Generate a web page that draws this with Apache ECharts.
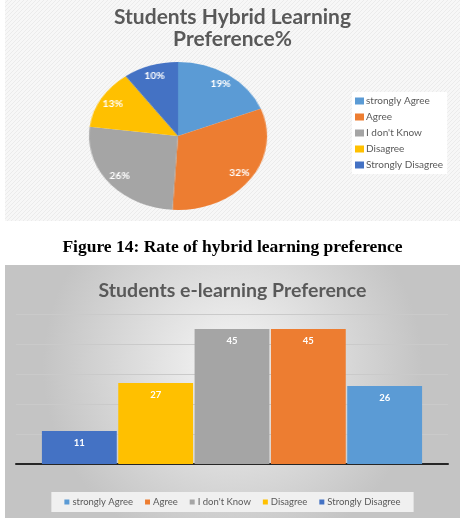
<!DOCTYPE html>
<html>
<head>
<meta charset="utf-8">
<script src="https://cdn.jsdelivr.net/npm/echarts@6/dist/echarts.min.js"></script>
<style>
  html, body { margin: 0; padding: 0; background: #fff; }
  #main { position: absolute; left: 0; top: 0; width: 465px; height: 523px; }
  /* the pie is drawn round and stretched sideways to get the oval look */
  #pie { position: absolute; left: 98px; top: 56px; width: 160px; height: 160px;
         transform: scaleX(1.203); transform-origin: 50% 50%; }
</style>
</head>
<body>
<div id="main"></div>
<div id="pie"></div>
<script>
// data
var pieNames = ['strongly Agree', 'Agree', "I don't Know", 'Disagree', 'Strongly Disagree'];
var pieValues = [19, 32, 26, 13, 10];
var barNames = ['Strongly Disagree', 'Disagree', "I don't Know", 'Agree', 'strongly Agree'];
var barValues = [11, 27, 45, 45, 26];
var yTicks = [0, 10, 20, 30, 40, 50];

var colorOf = {
    'strongly Agree': '#5b9bd5',
    'Agree': '#ed7d31',
    "I don't Know": '#a5a5a5',
    'Disagree': '#ffc000',
    'Strongly Disagree': '#4472c4'
};
var font = 'Lato, "Open Sans", sans-serif';

// light diagonal hatch for the top panel
var hatch = document.createElement('canvas');
hatch.width = 4; hatch.height = 4;
var hc = hatch.getContext('2d');
hc.fillStyle = '#f7f7f7';
hc.fillRect(0, 0, 4, 4);
hc.strokeStyle = '#ebebeb';
hc.lineWidth = 1;
hc.beginPath(); hc.moveTo(0, 4); hc.lineTo(4, 0); hc.stroke();

var myChart = echarts.init(document.getElementById('main'));

var barSeries = [];
for (var i = 0; i < barNames.length; i++) {
    barSeries.push({
        name: barNames[i],
        type: 'bar',
        barCategoryGap: '12%',
        barGap: '2%',
        itemStyle: { color: colorOf[barNames[i]] },
        label: {
            show: true,
            position: 'insideTop',
            distance: 7,
            color: '#fff',
            fontWeight: 'bold',
            fontSize: 9.5,
            fontFamily: font
        },
        data: [barValues[i]]
    });
}

option = {
    animation: false,
    graphic: [
        {
            type: 'rect', z: -10,
            shape: { x: 5, y: 0, width: 455, height: 221 },
            style: { fill: { image: hatch, repeat: 'repeat' } }
        },
        {
            type: 'rect', z: -10,
            shape: { x: 5, y: 265, width: 455, height: 253 },
            style: {
                fill: new echarts.graphic.RadialGradient(0.5, 0.4, 0.75, [
                    { offset: 0, color: '#f6f6f6' },
                    { offset: 1, color: '#c4c4c4' }
                ])
            }
        }
    ],
    title: [
        {
            text: 'Students Hybrid Learning\nPreference%',
            left: 'center', top: 1,
            textStyle: { color: '#595959', fontFamily: font, fontWeight: 'bold', fontSize: 21, lineHeight: 22 }
        },
        {
            text: 'Figure 14: Rate of hybrid learning preference',
            left: 'center', top: 232,
            textStyle: { color: '#000', fontFamily: '"Liberation Serif", serif', fontWeight: 'bold', fontSize: 17.5, lineHeight: 20 }
        },
        {
            text: 'Students e-learning Preference',
            left: 'center', top: 275,
            textStyle: { color: '#595959', fontFamily: font, fontWeight: 'bold', fontSize: 19.5, lineHeight: 22 }
        }
    ],
    legend: [
        {
            data: pieNames,
            orient: 'vertical',
            left: 352, top: 92,
            backgroundColor: '#fff',
            padding: [4, 4, 4, 3],
            icon: 'rect',
            itemWidth: 9, itemHeight: 7,
            itemGap: 6,
            selectedMode: false,
            textStyle: { color: '#595959', fontSize: 10, fontFamily: font, padding: [0, 0, 0, -3] }
        },
        {
            data: pieNames,
            orient: 'horizontal',
            left: 'center', top: 492,
            backgroundColor: '#f0f0f0',
            padding: [5, 13],
            icon: 'rect',
            itemWidth: 5, itemHeight: 5,
            itemGap: 12,
            selectedMode: false,
            textStyle: { color: '#595959', fontSize: 9.5, fontFamily: font, padding: [0, 0, 0, -2] }
        }
    ],
    grid: { left: 16, right: 17, top: 314, bottom: 59 },
    xAxis: {
        type: 'category',
        data: [''],
        axisTick: { show: false },
        axisLabel: { show: false },
        axisLine: { lineStyle: { color: '#262626', width: 2 } }
    },
    yAxis: {
        type: 'value',
        min: yTicks[0],
        max: yTicks[yTicks.length - 1],
        interval: yTicks[1] - yTicks[0],
        axisLabel: { show: false },
        axisLine: { show: false },
        axisTick: { show: false },
        splitLine: { lineStyle: { color: '#cacaca', width: 1 } }
    },
    series: barSeries
};

myChart.setOption(option);

// pie
var pieChart = echarts.init(document.getElementById('pie'));
var pieData = [];
for (var j = 0; j < pieNames.length; j++) {
    pieData.push({ name: pieNames[j], value: pieValues[j], itemStyle: { color: colorOf[pieNames[j]] } });
}

pieChart.setOption({
    animation: false,
    series: [
        {
            type: 'pie',
            radius: 74,
            center: ['50%', '50%'],
            startAngle: 90,
            label: { show: false },
            labelLine: { show: false },
            itemStyle: { borderWidth: 0 },
            data: pieData
        },
        {
            // a ring only used to put the labels near the rim
            type: 'pie',
            radius: [46, 74],
            center: ['50%', '50%'],
            startAngle: 90,
            silent: true,
            itemStyle: { color: 'transparent', borderWidth: 0 },
            label: {
                show: true,
                position: 'inside',
                formatter: '{c}%',
                color: '#fff',
                fontWeight: 'bold',
                fontSize: 8.5,
                fontFamily: font
            },
            labelLine: { show: false },
            data: pieData.map(function (d) { return { name: d.name, value: d.value, itemStyle: { color: 'transparent' } }; })
        }
    ]
});
</script>
</body>
</html>
